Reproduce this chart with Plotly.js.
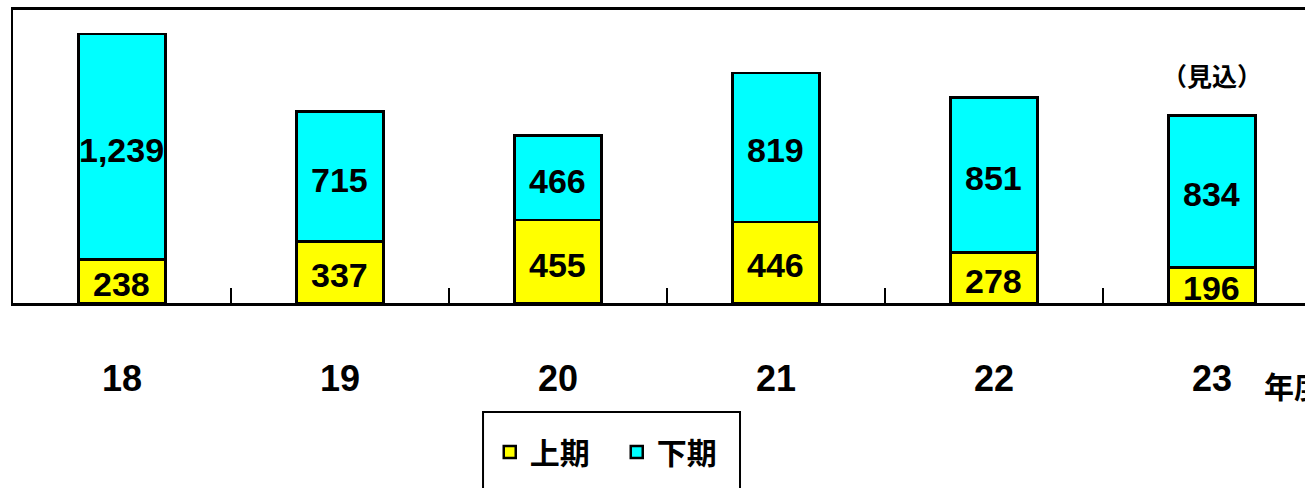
<!DOCTYPE html>
<html>
<head>
<meta charset="utf-8">
<script src="https://cdn.plot.ly/plotly-3.0.1.min.js"></script>
<style>html,body{margin:0;padding:0;background:#fff;}#chart{width:1305px;height:488px;}</style>
</head>
<body>
<div id="chart"></div>
<script>
var categories = ['18', '19', '20', '21', '22', '23'];
var firstHalf = [238, 337, 455, 446, 278, 196];     // 上期
var secondHalf = [1239, 715, 466, 819, 851, 834];   // 下期
var seriesNames = ['上期', '下期'];
var xUnitLabel = '年度';
var forecastLabel = '（見込）';
var forecastIndex = 5;

var numFont = 'Liberation Sans, Arial, sans-serif';
var cjkFont = 'Noto Sans CJK JP, Noto Sans CJK SC, sans-serif';

function fmt(v) { return v.toLocaleString('en-US'); }

var traces = [
  {
    type: 'bar', name: seriesNames[0], x: categories, y: firstHalf,
    marker: {color: '#ffff00', line: {color: '#000', width: 2.5}},
    hoverinfo: 'none'
  },
  {
    type: 'bar', name: seriesNames[1], x: categories, y: secondHalf,
    marker: {color: '#00ffff', line: {color: '#000', width: 2.5}},
    hoverinfo: 'none'
  }
];

var annotations = [];
categories.forEach(function (c, i) {
  annotations.push({
    x: i, y: firstHalf[i] / 2, xref: 'x', yref: 'y', yshift: -3,
    text: fmt(firstHalf[i]), showarrow: false,
    font: {family: numFont, size: 34, color: '#000', weight: 'bold'}
  });
  annotations.push({
    x: i, y: firstHalf[i] + secondHalf[i] / 2, xref: 'x', yref: 'y', yshift: -3,
    text: fmt(secondHalf[i]), showarrow: false,
    font: {family: numFont, size: 34, color: '#000', weight: 'bold'}
  });
});
annotations.push({
  x: forecastIndex, xref: 'x', y: 0.778, yref: 'paper', yanchor: 'middle',
  text: forecastLabel, showarrow: false,
  font: {family: cjkFont, size: 25, color: '#000', weight: 'bold'}
});
annotations.push({
  x: 0.9667, xref: 'paper', xanchor: 'left', y: -0.28, yref: 'paper', yanchor: 'middle',
  text: xUnitLabel, showarrow: false,
  font: {family: cjkFont, size: 30, color: '#000', weight: 'bold'}
});

var layout = {
  width: 1305, height: 488,
  margin: {l: 13, r: 0, t: 10, b: 185, pad: 0},
  paper_bgcolor: '#fff', plot_bgcolor: '#fff',
  barmode: 'stack', bargap: 0.6,
  showlegend: true,
  legend: {
    orientation: 'h', x: 0.369, xanchor: 'left', y: -0.5085, yanchor: 'middle',
    traceorder: 'normal', entrywidth: 82, entrywidthmode: 'pixels',
    bgcolor: 'rgba(0,0,0,0)', borderwidth: 0,
    font: {family: cjkFont, size: 30, color: '#000', weight: 'bold'}
  },
  xaxis: {
    type: 'category', range: [-0.5, 5.427], fixedrange: true,
    showline: true, linecolor: '#000', linewidth: 3, mirror: true,
    ticks: 'inside', tickson: 'boundaries', ticklen: 15, tickwidth: 1.5, tickcolor: '#000',
    showgrid: false, zeroline: false,
    ticklabelstandoff: 42,
    tickfont: {family: numFont, size: 36, color: '#000', weight: 'bold'}
  },
  yaxis: {
    range: [0, 1610], fixedrange: true,
    showline: true, linecolor: '#000', linewidth: 2.5,
    showticklabels: false, ticks: '', showgrid: false, zeroline: false
  },
  shapes: [{
    type: 'rect', xref: 'paper', yref: 'paper',
    x0: 0.3638, x1: 0.5627, y0: -0.372, y1: -0.72,
    line: {color: '#000', width: 2}, fillcolor: 'rgba(0,0,0,0)'
  }],
  annotations: annotations
};

Plotly.newPlot('chart', traces, layout, {displayModeBar: false, staticPlot: true});
</script>
</body>
</html>
